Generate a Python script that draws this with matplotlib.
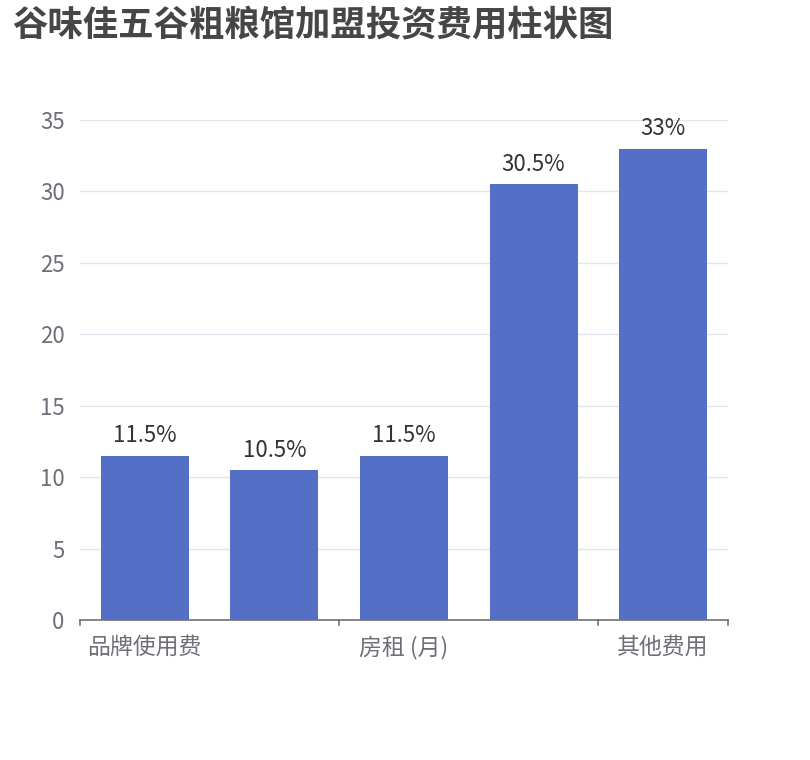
import numpy as np
import matplotlib
matplotlib.use("Agg")
import matplotlib.pyplot as plt

plt.rcParams['font.family'] = ['Noto Sans CJK SC', 'DejaVu Sans']

# data
categories = ['品牌使用费', '加盟保证金', '房租 (月)', '装修费用', '其他费用']
values = [11.5, 10.5, 11.5, 30.5, 33]
bar_labels = ['11.5%', '10.5%', '11.5%', '30.5%', '33%']
y_ticks = [0, 5, 10, 15, 20, 25, 30, 35]

fig = plt.figure(figsize=(8.1, 7.6), dpi=100)
ax = fig.add_axes([80/810, 140/760, 648/810, 500/760])

x = np.arange(len(categories))
ax.bar(x, values, width=0.68, color='#5470c6', zorder=3)
for xi, v, lab in zip(x, values, bar_labels):
    ax.annotate(lab, (xi, v), xytext=(0, 6), textcoords='offset points',
                ha='center', va='bottom', fontsize=16, color='#333333')

ax.set_xlim(-0.5, len(categories) - 0.5)
ax.set_ylim(0, 35)
ax.set_yticks(y_ticks)
ax.set_yticklabels([str(t) for t in y_ticks], fontsize=16, color='#6E7079')
ax.yaxis.grid(True, color='#E0E6F1', linewidth=1, zorder=0)
ax.tick_params(axis='y', length=0, pad=11)

# category labels every other bar, ticks at boundaries
ax.set_xticks([0, 2, 4])
ax.set_xticklabels([categories[0], categories[2], categories[4]], fontsize=16.5, color='#6E7079')
ax.tick_params(axis='x', length=0, pad=11)
for b in [-0.5, 1.5, 3.5, 4.5]:
    ax.plot([b, b], [0, -0.35], color='#6E7079', linewidth=1.2, clip_on=False, zorder=4)

for s in ['top', 'right', 'left']:
    ax.spines[s].set_visible(False)
ax.spines['bottom'].set_color('#6E7079')
ax.spines['bottom'].set_linewidth(1.2)
ax.spines['bottom'].set_zorder(4)

fig.text(12/810, 1 - 25/760, '谷味佳五谷粗粮馆加盟投资费用柱状图', fontsize=25.5,
         fontweight='bold', color='#464646', ha='left', va='center')

fig.savefig('out.png', dpi=100)
